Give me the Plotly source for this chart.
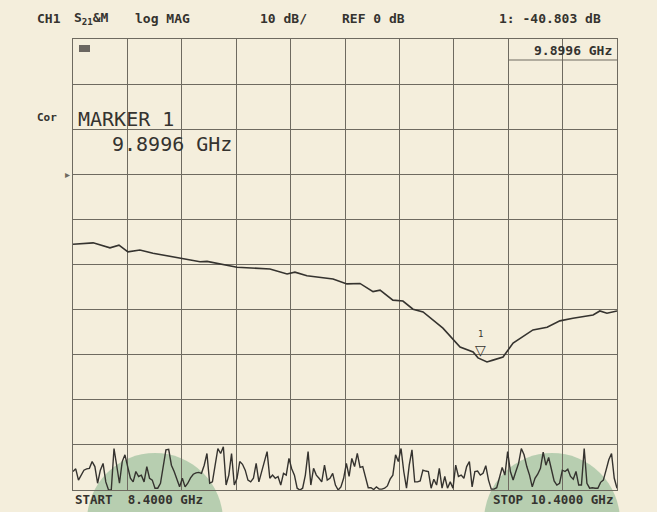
import numpy as np
import plotly.graph_objects as go

# ---- data ----
s21_freq_ghz = [8.400, 8.474, 8.536, 8.569, 8.602, 8.646, 8.694, 8.793, 8.867, 8.893,
                9.003, 9.124, 9.187, 9.216, 9.260, 9.356, 9.407, 9.455, 9.503, 9.529,
                9.576, 9.613, 9.650, 9.687, 9.760, 9.823, 9.871, 9.889, 9.922, 9.944,
                9.981, 10.018, 10.091, 10.143, 10.190, 10.238, 10.312, 10.337, 10.363, 10.400]
s21_db = [-15.5, -15.2, -16.3, -15.7, -17.2, -16.8, -17.5, -18.6, -19.4, -19.3,
          -20.6, -21.0, -22.1, -21.7, -22.5, -23.2, -24.3, -24.2, -26.0, -25.7,
          -27.9, -28.1, -29.9, -30.5, -34.1, -38.3, -39.4, -40.7, -41.6, -41.2,
          -40.5, -37.4, -34.5, -33.9, -32.5, -31.9, -31.2, -30.3, -30.8, -30.3]

noise_db = [
    -65.9, -65.3, -67.8, -66.7, -65.6, -65.3, -65.2, -63.7, -64.8, -68.5,
    -65.6, -64.1, -68.2, -70.0, -70.0, -60.8, -64.8, -68.5, -63.7, -62.2,
    -64.8, -67.4, -68.2, -65.9, -67.0, -66.7, -68.2, -64.8, -67.4, -67.8,
    -69.6, -69.6, -68.5, -65.2, -61.1, -61.0, -64.5, -65.9, -67.8, -69.3,
    -67.4, -69.3, -68.5, -67.3, -66.5, -66.2, -66.1, -66.3, -64.5, -61.9,
    -68.5, -68.2, -64.5, -60.8, -61.9, -60.4, -68.9, -66.7, -61.9, -68.9,
    -67.4, -63.7, -64.3, -65.6, -67.8, -68.2, -67.4, -64.1, -68.2, -65.9,
    -64.1, -61.5, -67.4, -66.7, -67.4, -67.0, -68.9, -66.3, -66.7, -63.0,
    -65.3, -66.7, -69.6, -70.0, -69.6, -66.7, -61.5, -68.9, -65.2, -66.7,
    -67.4, -68.2, -64.5, -67.8, -67.4, -66.3, -68.9, -70.0, -69.3, -67.4,
    -64.1, -67.0, -63.0, -64.8, -61.9, -65.0, -64.8, -67.4, -69.5, -69.5,
    -69.9, -69.3, -69.8, -69.8, -69.6, -69.1, -67.6, -66.7, -62.2, -63.7,
    -60.8, -65.9, -69.6, -64.5, -61.1, -68.2, -68.2, -68.0, -65.6, -65.8,
    -65.9, -69.6, -67.6, -68.9, -65.2, -69.6, -67.0, -69.6, -68.2, -69.6,
    -64.5, -67.0, -66.7, -67.4, -64.8, -63.7, -69.3, -65.9, -65.8, -66.7,
    -66.3, -64.6, -67.8, -69.8, -69.8, -69.5, -67.3, -65.0, -66.7, -61.5,
    -65.9, -67.8, -65.9, -64.1, -60.8, -62.2, -64.8, -66.7, -69.3, -67.4,
    -66.5, -65.2, -61.6, -64.5, -62.8, -65.2, -68.0, -68.9, -68.5, -65.6,
    -65.9, -65.4, -67.0, -67.6, -65.9, -68.9, -68.9, -60.8, -68.5, -69.6,
    -69.5, -69.6, -69.6, -68.3, -67.8, -65.6, -63.3, -61.9, -67.4, -69.6]
start_ghz, stop_ghz = 8.4, 10.4
noise_freq_ghz = np.linspace(start_ghz, stop_ghz, len(noise_db))

marker_freq_ghz = 9.8996
marker_db = -40.803

header_texts = ["CH1", "S<sub>21</sub>&amp;M", "log MAG", "10 dB/", "REF 0 dB", "1: -40.803 dB"]

# ---- layout helpers (page pixel -> paper); page body has an 8px margin ----
OFF = 8
W, H = 657 - OFF, 512 - OFF
L, R, T, B = 73, 617, 39, 490          # plot box in page pixels
def px(x):
    return (x - L) / (R - L)
def py(y):
    return (B - y) / (B - T)

BG = "#f4eedc"
INK = "#35332f"
GRID = "#6e6a60"
FONT_MONO = "DejaVu Sans Mono"

fig = go.Figure()
fig.add_trace(go.Scatter(x=s21_freq_ghz, y=s21_db, mode="lines",
                         line=dict(color=INK, width=1.6), hoverinfo="skip", showlegend=False))
fig.add_trace(go.Scatter(x=noise_freq_ghz, y=noise_db, mode="lines",
                         line=dict(color=INK, width=1.4), hoverinfo="skip", showlegend=False))

shapes = [
    # decorative green circles from the scan
    dict(type="circle", xref="paper", yref="paper", layer="below",
         x0=px(155 - 68), x1=px(155 + 68), y0=py(521 + 68), y1=py(521 - 68),
         fillcolor="rgba(160,194,160,0.72)", line=dict(width=0)),
    dict(type="circle", xref="paper", yref="paper", layer="below",
         x0=px(552 - 68), x1=px(552 + 68), y0=py(521 + 68), y1=py(521 - 68),
         fillcolor="rgba(160,194,160,0.72)", line=dict(width=0)),
    # small status box top-left
    dict(type="rect", xref="paper", yref="paper", x0=px(79), x1=px(90), y0=py(52), y1=py(45),
         fillcolor="#6a6660", line=dict(width=0)),
    # box under the marker frequency readout
    dict(type="line", xref="paper", yref="paper", x0=px(508), x1=px(617), y0=py(60), y1=py(60),
         line=dict(color=GRID, width=1)),
]

ann = []
def txt(text, x, y, size=12.5, anchor="left", bold=True, color=INK):
    ann.append(dict(text=f"<b>{text}</b>" if bold else text, xref="paper", yref="paper",
                    x=px(x), y=py(y), xanchor=anchor, yanchor="middle", showarrow=False,
                    font=dict(family=FONT_MONO, size=size, color=color)))

header_x = [35, 72, 133, 258, 340, 497]
for t, x in zip(header_texts, header_x):
    txt(t, x, 19, size=13)
txt("9.8996 GHz", 614, 50, size=13, anchor="right")
txt("Cor", 35, 117, size=11)
txt("MARKER 1", 76, 119, size=20, bold=False)
txt("9.8996 GHz", 110, 144, size=20, bold=False)
txt("START  8.4000 GHz", 73, 499, size=12.5)
txt("STOP 10.4000 GHz", 615, 499, size=12.5, anchor="right")

# reference-level arrow at 0 dB
ann.append(dict(text="▸", x=start_ghz, y=0, xref="x", yref="y", xanchor="right", yanchor="middle",
                showarrow=False, xshift=-1, font=dict(size=10, color=GRID)))
# marker 1 symbol
ann.append(dict(text="▽", x=marker_freq_ghz, y=marker_db, xref="x", yref="y", xanchor="center",
                yanchor="bottom", yshift=-3, showarrow=False, font=dict(size=14, color=INK)))
ann.append(dict(text="1", x=marker_freq_ghz, y=marker_db, xref="x", yref="y", xanchor="center",
                yanchor="bottom", yshift=17, showarrow=False,
                font=dict(family=FONT_MONO, size=9, color=INK)))

axis_common = dict(showgrid=True, gridcolor=GRID, gridwidth=1, zeroline=False,
                   showline=True, linecolor=GRID, linewidth=1.2, mirror=True,
                   showticklabels=False, ticks="", fixedrange=True)
fig.update_layout(
    width=W, height=H,
    margin=dict(l=L - OFF, r=W - (R - OFF), t=T - OFF, b=H - (B - OFF)),
    paper_bgcolor=BG, plot_bgcolor=BG,
    xaxis=dict(range=[start_ghz, stop_ghz], dtick=0.2, tick0=start_ghz, **axis_common),
    yaxis=dict(range=[-70, 30], dtick=10, tick0=0, **axis_common),
    shapes=shapes, annotations=ann,
)
fig.write_html("out.html", config={"displayModeBar": False},
               post_script=f"document.body.style.background='{BG}';")
